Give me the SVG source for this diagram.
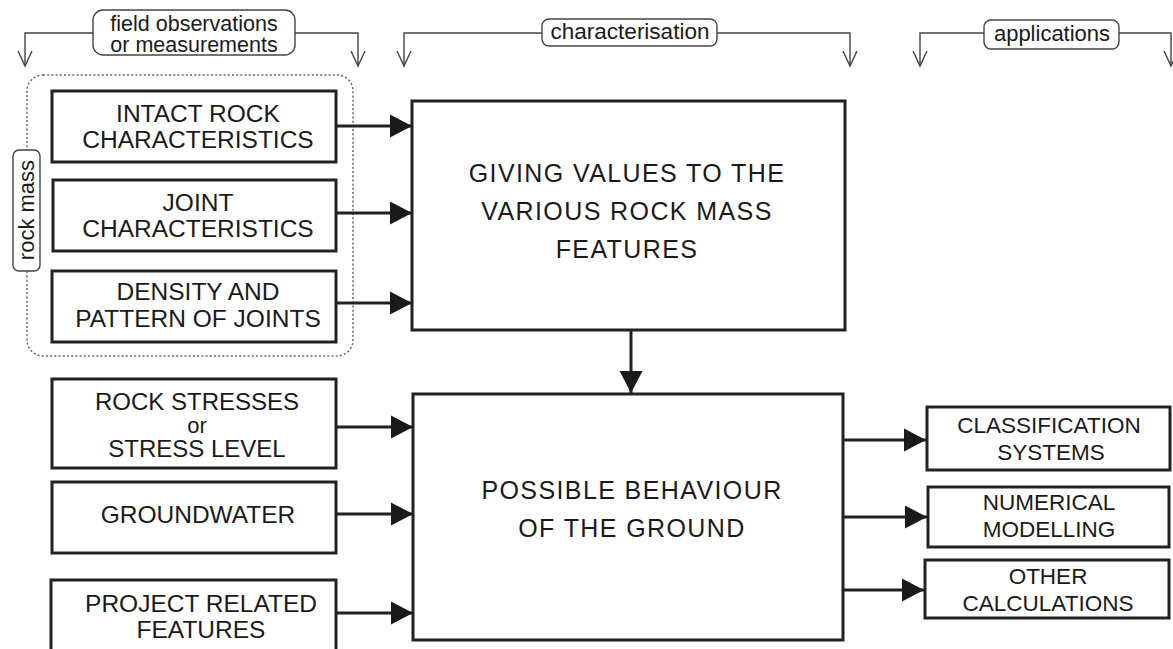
<svg xmlns="http://www.w3.org/2000/svg" width="1173" height="649" viewBox="0 0 1173 649">
<style>
  .box { fill: #fff; stroke: #222; stroke-width: 3; }
  .big { fill: #fff; stroke: #222; stroke-width: 3; }
  .t { font-family: "Liberation Sans", Arial, sans-serif; fill: #1a1a1a; text-anchor: middle; }
  .lt { font-size: 24.5px; }
  .bt { font-size: 25px; letter-spacing: 1.4px; }
  .rt { font-size: 22.5px; }
  .ht { font-size: 22px; }
  .conn { fill: none; stroke: #222; stroke-width: 3; }
  .brk { fill: none; stroke: #444; stroke-width: 1.4; }
  .lab { fill: #fff; stroke: #444; stroke-width: 1.4; }
  .dot { fill: none; stroke: #666; stroke-width: 1.5; stroke-dasharray: 2 2.2; }
</style>
<defs>
  <marker id="ah" markerUnits="userSpaceOnUse" markerWidth="23" markerHeight="24" refX="22" refY="11.5" orient="auto" overflow="visible">
    <path d="M0,0 L22,11.5 L0,23 z" fill="#1a1a1a"/>
  </marker>
  <marker id="ov" markerUnits="userSpaceOnUse" markerWidth="17" markerHeight="16" refX="15" refY="7" orient="auto" overflow="visible">
    <path d="M0,0 L15,7 L0,14" fill="none" stroke="#444" stroke-width="1.4"/>
  </marker>
</defs>
<rect width="1173" height="649" fill="#fff"/>

<!-- header brackets -->
<g id="headers">
  <path class="brk" d="M93,33 H25 V66" marker-end="url(#ov)"/>
  <path class="brk" d="M295,33 H358 V66" marker-end="url(#ov)"/>
  <rect class="lab" x="93" y="10" width="202" height="45" rx="10"/>
  <text class="t" x="194" y="30.5" style="font-size:21.5px">field observations</text>
  <text class="t" x="194" y="51.5" style="font-size:21.5px">or measurements</text>

  <path class="brk" d="M542,33 H404 V66" marker-end="url(#ov)"/>
  <path class="brk" d="M717,33 H850 V66" marker-end="url(#ov)"/>
  <rect class="lab" x="542" y="19" width="175" height="27" rx="7"/>
  <text class="t ht" x="630" y="39" style="font-size:22.5px">characterisation</text>

  <path class="brk" d="M984,33 H920 V66" marker-end="url(#ov)"/>
  <path class="brk" d="M1119,33 H1171 V66" marker-end="url(#ov)"/>
  <rect class="lab" x="984" y="20" width="135" height="29" rx="7"/>
  <text class="t ht" x="1052" y="41">applications</text>
</g>

<!-- rock mass group -->
<g id="rockmass">
  <rect class="dot" x="27" y="75" width="326" height="281" rx="16"/>
  <rect class="lab" x="13" y="150" width="27" height="121" rx="6"/>
  <text class="t ht" transform="translate(34,210) rotate(-90)" x="0" y="0">rock mass</text>
</g>

<g id="intact">
  <rect class="box" x="52" y="91" width="284" height="71"/>
  <text class="t lt" x="198" y="122">INTACT ROCK</text>
  <text class="t lt" x="198" y="148">CHARACTERISTICS</text>
</g>
<g id="joint">
  <rect class="box" x="53" y="180" width="283" height="71"/>
  <text class="t lt" x="198" y="211">JOINT</text>
  <text class="t lt" x="198" y="237">CHARACTERISTICS</text>
</g>
<g id="density">
  <rect class="box" x="52" y="271" width="284" height="71"/>
  <text class="t lt" x="198" y="300">DENSITY AND</text>
  <text class="t lt" x="198" y="327">PATTERN OF JOINTS</text>
</g>
<g id="stresses">
  <rect class="box" x="52" y="379" width="284" height="89"/>
  <text class="t" x="197" y="410" style="font-size:24px">ROCK STRESSES</text>
  <text class="t" x="197" y="433" style="font-size:22px">or</text>
  <text class="t" x="197" y="457" style="font-size:24px">STRESS LEVEL</text>
</g>
<g id="groundwater">
  <rect class="box" x="52" y="482" width="284" height="71"/>
  <text class="t lt" x="198" y="523">GROUNDWATER</text>
</g>
<g id="project">
  <rect class="box" x="51" y="580" width="285" height="80"/>
  <text class="t lt" x="201" y="612">PROJECT RELATED</text>
  <text class="t lt" x="201" y="638">FEATURES</text>
</g>

<g id="giving">
  <rect class="big" x="412" y="101" width="433" height="229"/>
  <text class="t bt" x="627" y="182">GIVING VALUES TO THE</text>
  <text class="t bt" x="627" y="220">VARIOUS ROCK MASS</text>
  <text class="t bt" x="627" y="258">FEATURES</text>
</g>
<g id="behaviour">
  <rect class="big" x="413" y="394" width="430" height="246"/>
  <text class="t bt" x="632" y="499">POSSIBLE BEHAVIOUR</text>
  <text class="t bt" x="632" y="537">OF THE GROUND</text>
</g>

<g id="classification">
  <rect class="box" x="927" y="407" width="243" height="63"/>
  <text class="t rt" x="1049" y="433">CLASSIFICATION</text>
  <text class="t rt" x="1051" y="460">SYSTEMS</text>
</g>
<g id="numerical">
  <rect class="box" x="928" y="487" width="241" height="60"/>
  <text class="t rt" x="1049" y="510">NUMERICAL</text>
  <text class="t rt" x="1049" y="537">MODELLING</text>
</g>
<g id="other">
  <rect class="box" x="925" y="560" width="244" height="58"/>
  <text class="t rt" x="1048" y="584">OTHER</text>
  <text class="t rt" x="1048" y="611">CALCULATIONS</text>
</g>

<!-- connectors -->
<g id="connectors">
  <line class="conn" x1="336" y1="126" x2="412" y2="126" marker-end="url(#ah)"/>
  <line class="conn" x1="336" y1="213" x2="412" y2="213" marker-end="url(#ah)"/>
  <line class="conn" x1="336" y1="303" x2="412" y2="303" marker-end="url(#ah)"/>
  <line class="conn" x1="631" y1="330" x2="631" y2="393" marker-end="url(#ah)"/>
  <line class="conn" x1="336" y1="427" x2="413" y2="427" marker-end="url(#ah)"/>
  <line class="conn" x1="336" y1="514" x2="413" y2="514" marker-end="url(#ah)"/>
  <line class="conn" x1="336" y1="613" x2="413" y2="613" marker-end="url(#ah)"/>
  <line class="conn" x1="843" y1="440" x2="926" y2="440" marker-end="url(#ah)"/>
  <line class="conn" x1="843" y1="517" x2="927" y2="517" marker-end="url(#ah)"/>
  <line class="conn" x1="843" y1="590" x2="924" y2="590" marker-end="url(#ah)"/>
</g>
</svg>
